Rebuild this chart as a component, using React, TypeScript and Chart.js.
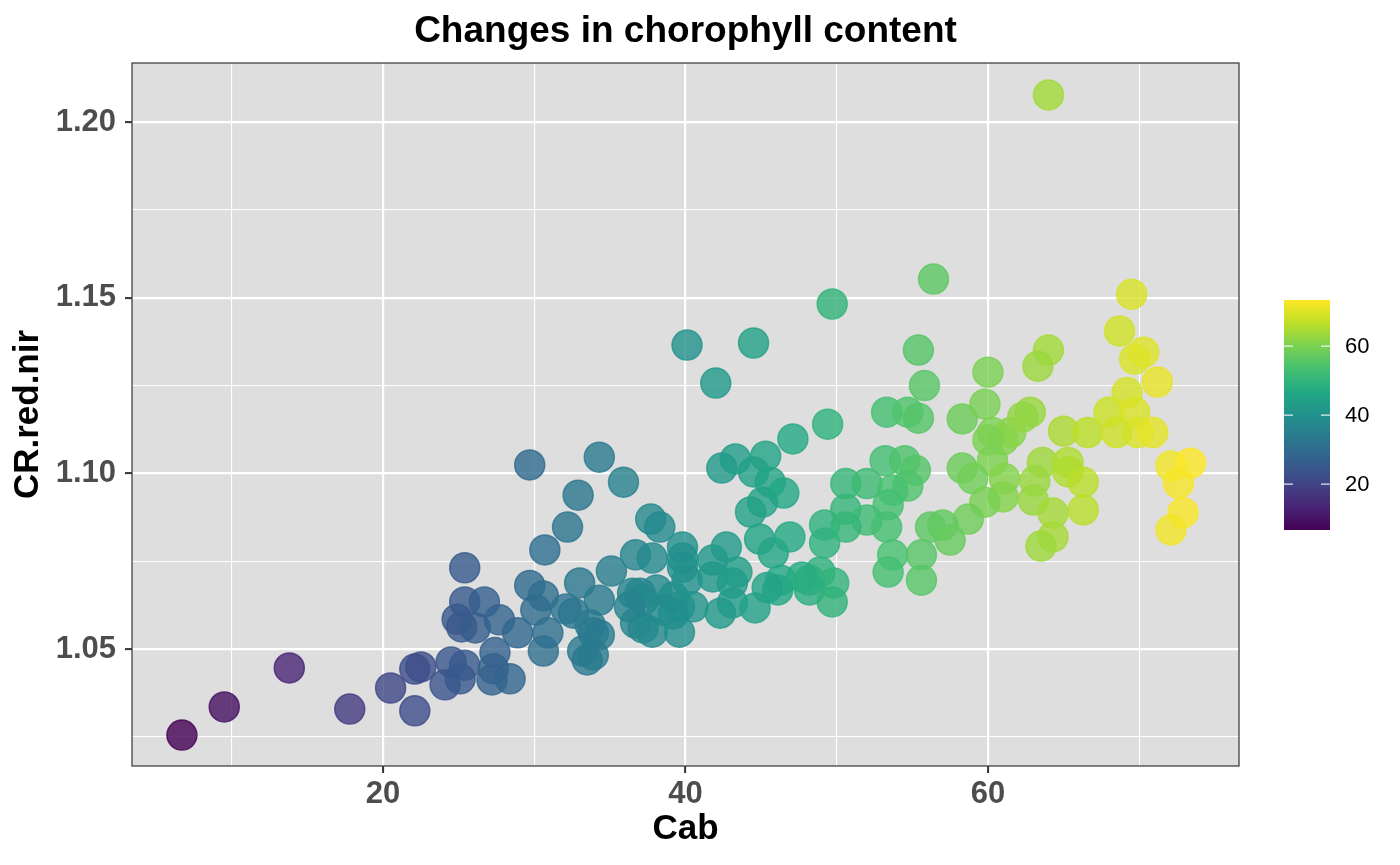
import { useEffect, useRef } from "react";
import { Chart, registerables, Plugin } from "chart.js";

Chart.register(...registerables);

const FONT = '"Liberation Sans", Arial, Helvetica, sans-serif';

const chartTitle = "Changes in chorophyll content";
const xTitle = "Cab";
const yTitle = "CR.red.nir";
const colorbarTicks = [20, 40, 60];

// Cab (x) and CR.red.nir (y)
const cab = [
  6.7, 9.5, 13.8, 17.8, 20.5, 22.1, 22.1, 22.5, 24.1, 24.5, 25.1, 25.4, 27.4, 27.3, 27.2, 28.4,
  25.4, 25.4, 26.7, 24.9, 25.2, 26.1, 27.7, 28.9, 29.7, 30.7, 29.7, 30.6, 30.1, 30.6, 30.9,
  32.9, 32.2, 34.3, 35.9, 33.0, 32.1, 32.6, 34.3, 33.7, 34.3, 33.2, 33.5, 33.9, 33.9,
  37.0, 35.1, 36.7, 37.8, 37.7, 38.3, 36.5, 37.2, 38.1, 39.2, 39.6, 40.5, 40.1, 39.8, 39.8, 39.8,
  41.8, 42.7, 41.8, 43.4, 43.1, 43.1, 42.3, 44.6, 44.9, 45.8, 46.9, 46.3, 46.1, 45.4,
  36.7, 37.2, 37.8, 39.6, 36.3, 38.5, 39.2,
  42.4, 43.3, 45.3, 44.5, 45.6, 46.5, 45.1, 44.3, 47.1, 49.2, 49.2, 48.2, 48.9, 49.8,
  40.1, 44.5, 42.0, 49.7, 49.4, 50.6, 52.0, 50.6, 52.0, 47.7, 48.2, 49.7,
  55.8, 53.3, 54.7, 55.4, 60.0, 58.3, 59.8, 60.3, 61.0, 61.5, 62.8, 62.3, 60.3, 58.3, 59.0, 61.1,
  61.0, 59.8, 58.7, 56.2, 57.0, 57.5, 63.6, 63.1, 63.0, 64.3, 64.3, 63.5,
  53.2, 54.5, 55.2, 54.7, 53.7, 53.4, 53.3, 50.6, 53.7, 53.4, 55.6, 55.6,
  56.4, 55.4, 64.0, 63.3, 65.0, 66.6, 68.0, 69.2, 69.7, 69.9, 70.9, 68.5, 68.7, 69.5, 69.7, 70.3,
  71.2, 72.1, 73.4, 72.6, 72.9, 72.1, 65.3, 65.3, 66.3, 66.3, 64.0, 60.0,
];

const crRedNir = [
  1.0255, 1.0335, 1.0446, 1.0329, 1.0389, 1.0324, 1.0443, 1.0449, 1.0398, 1.0463, 1.0415, 1.0454, 1.049, 1.0444, 1.0412, 1.0415,
  1.0731, 1.0634, 1.0634, 1.0585, 1.0563, 1.056, 1.0583, 1.0546, 1.1024, 1.0782, 1.0681, 1.0651, 1.0611, 1.0494, 1.0546,
  1.0938, 1.0847, 1.1046, 1.0975, 1.0688, 1.0614, 1.0602, 1.0639, 1.0568, 1.054, 1.0494, 1.0469, 1.0483, 1.0546,
  1.0659, 1.0722, 1.0768, 1.0759, 1.087, 1.0847, 1.0659, 1.0639, 1.0668, 1.0648, 1.062, 1.062, 1.0696, 1.079, 1.0759, 1.0733,
  1.0753, 1.079, 1.0705, 1.0719, 1.0688, 1.0631, 1.0602, 1.0617, 1.0813, 1.0773, 1.0819, 1.0696, 1.0668, 1.0675,
  1.0574, 1.056, 1.0548, 1.0548, 1.062, 1.0611, 1.06,
  1.1015, 1.1041, 1.1049, 1.1004, 1.0975, 1.0944, 1.0918, 1.089, 1.1098, 1.0853, 1.0802, 1.0696, 1.0719, 1.0688,
  1.1365, 1.1371, 1.1257, 1.1482, 1.114, 1.0971, 1.0971, 1.0898, 1.0867, 1.0705, 1.0668, 1.0634,
  1.125, 1.1174, 1.1174, 1.1157, 1.1288, 1.1155, 1.1197, 1.1116, 1.1095, 1.1116, 1.1174, 1.116, 1.1036, 1.1015, 1.0985, 1.0985,
  1.0933, 1.0918, 1.087, 1.0847, 1.0853, 1.081, 1.1031, 1.0978, 1.0924, 1.0887, 1.0819, 1.0793,
  1.1036, 1.1036, 1.1009, 1.0964, 1.0952, 1.091, 1.0847, 1.0847, 1.0768, 1.0719, 1.0768, 1.0696,
  1.1553, 1.1351, 1.1351, 1.1305, 1.112, 1.1116, 1.1174, 1.123, 1.1174, 1.1116, 1.1116, 1.1116, 1.1405, 1.151, 1.1325, 1.1345,
  1.126, 1.1021, 1.1029, 1.0972, 1.0888, 1.0839, 1.1031, 1.1004, 1.0975, 1.0896, 1.2077, 1.1095,
];

const VIRIDIS = [
  [68, 1, 84], [72, 36, 117], [65, 68, 135], [53, 95, 141], [42, 120, 142],
  [33, 145, 140], [34, 168, 132], [68, 191, 112], [122, 209, 81], [189, 223, 38], [253, 231, 37],
];

function viridis(t: number, alpha = 1) {
  const c = Math.max(0, Math.min(1, t)) * 10;
  const i = Math.min(9, Math.floor(c));
  const f = c - i;
  const a = VIRIDIS[i];
  const b = VIRIDIS[i + 1];
  const r = Math.round(a[0] + (b[0] - a[0]) * f);
  const g = Math.round(a[1] + (b[1] - a[1]) * f);
  const bl = Math.round(a[2] + (b[2] - a[2]) * f);
  return `rgba(${r},${g},${bl},${alpha})`;
}

const cabMin = Math.min(...cab);
const cabMax = Math.max(...cab);
const scaleT = (v: number) => (v - cabMin) / (cabMax - cabMin);

const isMajorX = (v: number) => Math.abs(v / 20 - Math.round(v / 20)) < 1e-6;
const isMajorY = (v: number) => Math.abs(v * 20 - Math.round(v * 20)) < 1e-6;

const panelPlugin: Plugin = {
  id: "panel",
  beforeDraw(chart) {
    const { ctx, chartArea: a } = chart;
    ctx.save();
    ctx.fillStyle = "#dedede";
    ctx.fillRect(a.left, a.top, a.right - a.left, a.bottom - a.top);
    ctx.restore();
  },
  afterDraw(chart) {
    const { ctx, chartArea: a } = chart;
    ctx.save();
    ctx.strokeStyle = "#333333";
    ctx.lineWidth = 1.2;
    ctx.strokeRect(a.left, a.top, a.right - a.left, a.bottom - a.top);

    // title
    ctx.fillStyle = "#000";
    ctx.font = `bold 37px ${FONT}`;
    ctx.textAlign = "center";
    ctx.textBaseline = "alphabetic";
    ctx.fillText(chartTitle, (a.left + a.right) / 2, 42);

    // colour bar
    const bx = a.right + 45, bw = 46, by = 300, bh = 230;
    const grad = ctx.createLinearGradient(0, by + bh, 0, by);
    for (let k = 0; k <= 20; k++) grad.addColorStop(k / 20, viridis(k / 20));
    ctx.fillStyle = grad;
    ctx.fillRect(bx, by, bw, bh);
    ctx.strokeStyle = "rgba(255,255,255,0.85)";
    ctx.lineWidth = 1.2;
    ctx.fillStyle = "#000";
    ctx.font = `22px ${FONT}`;
    ctx.textAlign = "left";
    ctx.textBaseline = "middle";
    colorbarTicks.forEach((v) => {
      const y = by + bh - scaleT(v) * bh;
      ctx.beginPath();
      ctx.moveTo(bx, y);
      ctx.lineTo(bx + 9, y);
      ctx.moveTo(bx + bw - 9, y);
      ctx.lineTo(bx + bw, y);
      ctx.stroke();
      ctx.fillText(String(v), bx + bw + 15, y + 1);
    });
    ctx.restore();
  },
};

export default function App() {
  const canvasRef = useRef<HTMLCanvasElement>(null);

  useEffect(() => {
    document.body.style.margin = "0";
    if (!canvasRef.current) return;

    const pointColor = (c: any) => {
      const raw = c.raw as { x: number } | undefined;
      return raw ? viridis(scaleT(raw.x), 0.8) : "rgba(0,0,0,0.8)";
    };

    const chart = new Chart(canvasRef.current, {
      type: "scatter",
      data: {
        datasets: [
          {
            data: cab.map((x, i) => ({ x, y: crRedNir[i] })),
            pointRadius: 15,
            pointHoverRadius: 15,
            pointBorderWidth: 1.5,
            backgroundColor: pointColor,
            borderColor: pointColor,
          },
        ],
      },
      options: {
        animation: false,
        responsive: true,
        maintainAspectRatio: false,
        layout: { padding: { top: 63, right: 161, bottom: 0, left: 0 } },
        plugins: {
          legend: { display: false },
          tooltip: { enabled: false },
        },
        scales: {
          x: {
            type: "linear",
            min: 3.4,
            max: 76.6,
            afterFit: (s) => {
              s.height = 99;
            },
            border: { display: false },
            grid: {
              color: "#ffffff",
              lineWidth: (c) => (isMajorX(c.tick.value) ? 2.2 : 1.1),
              tickColor: (c) => (isMajorX(c.tick.value) ? "#333333" : "rgba(0,0,0,0)"),
              tickLength: 7,
              tickWidth: 2,
            },
            ticks: {
              stepSize: 10,
              includeBounds: false,
              autoSkip: false,
              maxRotation: 0,
              padding: 3,
              color: "#4d4d4d",
              font: { family: FONT, size: 31, weight: "bold" },
              callback: (v) => (isMajorX(Number(v)) ? String(v) : ""),
            },
            title: {
              display: true,
              text: xTitle,
              color: "#000",
              font: { family: FONT, size: 35, weight: "bold" },
              padding: { top: 0, bottom: 15 },
            },
          },
          y: {
            type: "linear",
            min: 1.0167,
            max: 1.2168,
            afterFit: (s) => {
              s.width = 132;
            },
            border: { display: false },
            grid: {
              color: "#ffffff",
              lineWidth: (c) => (isMajorY(c.tick.value) ? 2.2 : 1.1),
              tickColor: (c) => (isMajorY(c.tick.value) ? "#333333" : "rgba(0,0,0,0)"),
              tickLength: 7,
              tickWidth: 2,
            },
            ticks: {
              stepSize: 0.025,
              includeBounds: false,
              autoSkip: false,
              padding: 9,
              color: "#4d4d4d",
              font: { family: FONT, size: 31, weight: "bold" },
              callback: (v) => (isMajorY(Number(v)) ? Number(v).toFixed(2) : ""),
            },
            title: {
              display: true,
              text: yTitle,
              color: "#000",
              font: { family: FONT, size: 35, weight: "bold" },
              padding: { top: 7, bottom: 0 },
            },
          },
        },
      },
      plugins: [panelPlugin],
    });

    return () => {
      chart.destroy();
    };
  }, []);

  return (
    <div style={{ position: "relative", width: 1400, height: 865 }}>
      <canvas ref={canvasRef} />
    </div>
  );
}
